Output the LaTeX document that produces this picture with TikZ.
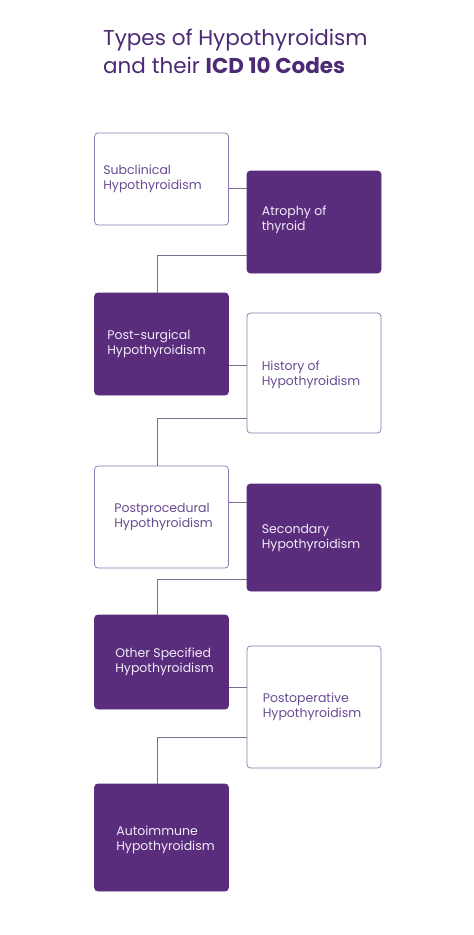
\documentclass[tikz,border=0pt]{standalone}
\usepackage{fontspec}
\setmainfont{Poppins}
\usetikzlibrary{positioning}
\definecolor{plum}{HTML}{5A2D7C}
\definecolor{plumtext}{HTML}{6A4B92}
\definecolor{plumline}{HTML}{8C78AC}
\definecolor{linkgray}{HTML}{7C6C92}
\definecolor{lilac}{HTML}{F1EAF8}
\definecolor{titleplum}{HTML}{4C2B74}
\tikzset{card/.style={draw=plumline, rounded corners=3.5pt, line width=0.75pt, minimum width=134pt, minimum height=#1, inner sep=0pt}}
\tikzset{dark card/.style={card=#1, draw=plum, fill=plum}}
\tikzset{cardtext/.style={align=left, inner sep=0pt, text=plumtext, font=\fontsize{12.5}{15}\selectfont}}
\tikzset{dark cardtext/.style={cardtext, text=lilac}}
\tikzset{link/.style={draw=linkgray, line width=0.75pt}}

\begin{document}
\begin{tikzpicture}[x=1pt,y=-1pt]
\useasboundingbox[fill=white] (0,0) rectangle (474,935);
% title
\node[anchor=base west, inner sep=0pt, text=titleplum, font=\fontsize{21.5}{26}\selectfont] (title1) at (103,45) {Types of Hypothyroidism};
\node[anchor=base west, inner sep=0pt, text=titleplum, font=\fontsize{21.5}{26}\selectfont] (title2) at (103,73) {and their \textbf{ICD 10 Codes}};
% boxes
\node[card=92pt](sub) at (161.5,179) {};
\node[cardtext, right=9pt of sub.west] (sub-t) {Subclinical\\Hypothyroidism};
\node[dark card=102pt](atr) at (314,222) {};
\node[dark cardtext, right=15pt of atr.west, yshift=2pt] (atr-t) {Atrophy of\\thyroid};
\node[dark card=102pt](pss) at (161.5,344) {};
\node[dark cardtext, right=13pt of pss.west] (pss-t) {Post-surgical\\Hypothyroidism};
\node[card=120pt](his) at (314,373) {};
\node[cardtext, right=15pt of his.west, yshift=-2pt] (his-t) {History of\\Hypothyroidism};
\node[card=102pt](ppr) at (161.5,517) {};
\node[cardtext, right=20pt of ppr.west] (ppr-t) {Postprocedural\\Hypothyroidism};
\node[dark card=107pt](sec) at (314,537.5) {};
\node[dark cardtext, right=15pt of sec.west] (sec-t) {Secondary\\Hypothyroidism};
\node[dark card=94pt](oth) at (161.5,662) {};
\node[dark cardtext, right=21pt of oth.west] (oth-t) {Other Specified\\Hypothyroidism};
\node[card=122pt](pop) at (314,707) {};
\node[cardtext, right=16pt of pop.west] (pop-t) {Postoperative\\Hypothyroidism};
\node[dark card=107pt](aut) at (161.5,837.5) {};
\node[dark cardtext, right=22pt of aut.west, yshift=-2.5pt] (aut-t) {Autoimmune\\Hypothyroidism};
% connectors
\draw[link] ([yshift=-9pt]sub.east) -- ([yshift=-9pt]sub.east -| atr.west);
\draw[link] ([yshift=-33pt]atr.west) -| ([xshift=-4.5pt]pss.north);
\draw[link] ([yshift=-21pt]pss.east) -- ([yshift=-21pt]pss.east -| his.west);
\draw[link] ([yshift=-45pt]his.west) -| ([xshift=-4.5pt]ppr.north);
\draw[link] ([yshift=15pt]ppr.east) -- ([yshift=15pt]ppr.east -| sec.west);
\draw[link] ([yshift=-41.5pt]sec.west) -| ([xshift=-4.5pt]oth.north);
\draw[link] ([yshift=-25pt]oth.east) -- ([yshift=-25pt]oth.east -| pop.west);
\draw[link] ([yshift=-30pt]pop.west) -| ([xshift=-4.5pt]aut.north);
\end{tikzpicture}
\end{document}
